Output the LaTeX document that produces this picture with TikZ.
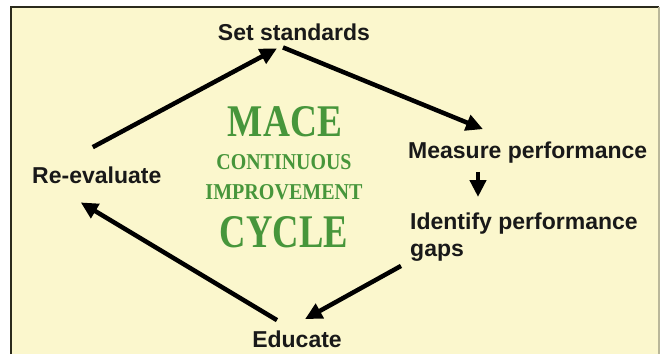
\documentclass[tikz,border=0pt]{standalone}
\usepackage{fontspec}
\setmainfont{Liberation Sans}
\newfontfamily\stencilfont{Liberation Serif}
\usepackage{graphicx}
\usepackage{xcolor}
\usetikzlibrary{arrows.meta,positioning,calc}
\definecolor{cream}{HTML}{FBF7CD}
\definecolor{frame}{HTML}{2B2A1C}
\definecolor{sideframe}{HTML}{B9B79A}
\definecolor{leafgreen}{HTML}{47963B}

\begin{document}
\begin{tikzpicture}[
    x=1pt,y=1pt,
    stage/.style={inner sep=0pt,font=\fontsize{23}{27}\selectfont\bfseries,text=black!90},
    cyctext/.style={inner sep=0pt,text=leafgreen,font=\stencilfont\bfseries},
    arr/.style={-{Triangle[length=17pt,width=16pt]},line width=4.5pt,draw=black}
]
    \useasboundingbox (0,0) rectangle (662,-354);
    % background panel
    \fill[cream] (11,-7) rectangle (659,-354);
    \draw[frame,line width=2pt] (11,-354) -- (11,-7) -- (659,-7);
    \draw[sideframe,line width=2pt] (659,-7) -- (659,-354);

    % cycle steps
    \node[stage,anchor=base] (set) at (294,-40) {Set standards};
    \node[stage,anchor=base west] (measure) at (408,-158) {Measure performance};
    \node[stage,anchor=north west,align=left] (ident) at (410,-213) {Identify performance\\gaps};
    \node[stage,anchor=base] (educ) at (297,-347) {Educate};
    \node[stage,anchor=base west] (reeval) at (32,-183) {Re-evaluate};

    % centre title
    \node[cyctext] (mace) at (285,-122) {\resizebox{114pt}{30pt}{MACE}};
    \node[cyctext] (cont) at (284,-162.5) {\resizebox{135pt}{15pt}{CONTINUOUS}};
    \node[cyctext] (impr) at (284,-192.5) {\resizebox{157pt}{15pt}{IMPROVEMENT}};
    \node[cyctext] (cycle) at (284,-232.5) {\resizebox{128pt}{31pt}{CYCLE}};

    \draw[arr] ([shift={(-4pt,19pt)}]reeval.north) -- ([shift={(-17pt,-8pt)}]set.south);
    \draw[arr] ([shift={(-11pt,-7pt)}]set.south) -- ([shift={(75pt,12pt)}]measure.north west);
    \draw[arr] ([shift={(70pt,-9pt)}]measure.south west) -- ([shift={(68pt,16pt)}]ident.north west);
    \draw[arr] ([shift={(-9pt,-4pt)}]ident.south west) -- ([shift={(8pt,11pt)}]educ.north);
    \draw[arr] ([shift={(-20pt,10pt)}]educ.north) -- ([shift={(-16pt,-19pt)}]reeval.south);
\end{tikzpicture}
\end{document}
